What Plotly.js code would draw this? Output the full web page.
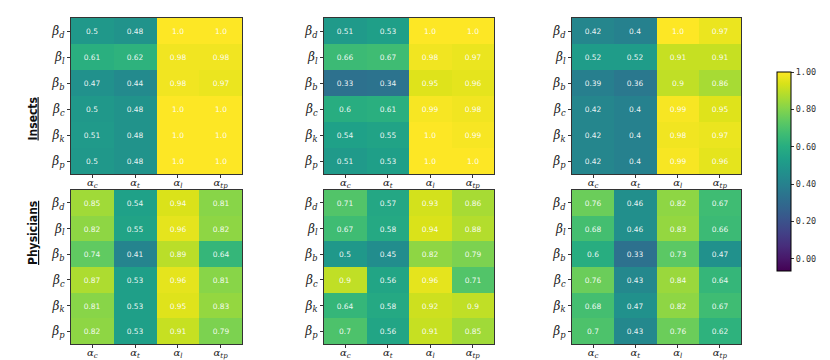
<!DOCTYPE html>
<html>
<head>
<meta charset="utf-8">
<script src="https://cdn.plot.ly/plotly-3.0.1.min.js"></script>
<style>
	html, body { margin: 0; padding: 0; background: #fff; }
	#plot { width: 830px; height: 360px; }
</style>
</head>
<body>
<div id="plot"></div>
<script>
// categories
const colLabels = [ 'c', 't', 'l', 'tp' ];
const rowLabels = [ 'd', 'l', 'b', 'c', 'k', 'p' ];
const groupNames = [ 'Insects', 'Physicians' ];

// Insects, rows = beta_d..beta_p, cols = alpha_c..alpha_tp
const insects1 = [
	[ 0.5, 0.48, 1.0, 1.0 ],
	[ 0.61, 0.62, 0.98, 0.98 ],
	[ 0.47, 0.44, 0.98, 0.97 ],
	[ 0.5, 0.48, 1.0, 1.0 ],
	[ 0.51, 0.48, 1.0, 1.0 ],
	[ 0.5, 0.48, 1.0, 1.0 ],
];
const insects2 = [
	[ 0.51, 0.53, 1.0, 1.0 ],
	[ 0.66, 0.67, 0.98, 0.97 ],
	[ 0.33, 0.34, 0.95, 0.96 ],
	[ 0.6, 0.61, 0.99, 0.98 ],
	[ 0.54, 0.55, 1.0, 0.99 ],
	[ 0.51, 0.53, 1.0, 1.0 ],
];
const insects3 = [
	[ 0.42, 0.4, 1.0, 0.97 ],
	[ 0.52, 0.52, 0.91, 0.91 ],
	[ 0.39, 0.36, 0.9, 0.86 ],
	[ 0.42, 0.4, 0.99, 0.95 ],
	[ 0.42, 0.4, 0.98, 0.97 ],
	[ 0.42, 0.4, 0.99, 0.96 ],
];

// Physicians
const physicians1 = [
	[ 0.85, 0.54, 0.94, 0.81 ],
	[ 0.82, 0.55, 0.96, 0.82 ],
	[ 0.74, 0.41, 0.89, 0.64 ],
	[ 0.87, 0.53, 0.96, 0.81 ],
	[ 0.81, 0.53, 0.95, 0.83 ],
	[ 0.82, 0.53, 0.91, 0.79 ],
];
const physicians2 = [
	[ 0.71, 0.57, 0.93, 0.86 ],
	[ 0.67, 0.58, 0.94, 0.88 ],
	[ 0.5, 0.45, 0.82, 0.79 ],
	[ 0.9, 0.56, 0.96, 0.71 ],
	[ 0.64, 0.58, 0.92, 0.9 ],
	[ 0.7, 0.56, 0.91, 0.85 ],
];
const physicians3 = [
	[ 0.76, 0.46, 0.82, 0.67 ],
	[ 0.68, 0.46, 0.83, 0.66 ],
	[ 0.6, 0.33, 0.73, 0.47 ],
	[ 0.76, 0.43, 0.84, 0.64 ],
	[ 0.68, 0.47, 0.82, 0.67 ],
	[ 0.7, 0.43, 0.76, 0.62 ],
];

const colorbarTicks = [ 0, 0.2, 0.4, 0.6, 0.8, 1.0 ];

/**
 * Layout helpers (pixel -> paper)
 */
const W = 830, H = 360;
const px = v => v / W;
const py = v => 1 - v / H;

const colDomains = [ [ 71, 242 ], [ 324, 494 ], [ 572, 741 ] ];
const rowDomains = [ [ 18, 174 ], [ 190, 344 ] ];
const panels = [ [ insects1, insects2, insects3 ], [ physicians1, physicians2, physicians3 ] ];

const xText = colLabels.map(s => `<i>α</i><sub><i>${s}</i></sub>`);
const yText = rowLabels.map(s => `<i>β</i><sub><i>${s}</i></sub>`);

const fmt = v => Number.isInteger(v) ? v.toFixed(1) : String(v);

const data = [];
const layout = {
	width: W,
	height: H,
	margin: { l: 0, r: 0, t: 0, b: 0 },
	paper_bgcolor: '#fff',
	plot_bgcolor: '#fff',
	showlegend: false,
	font: { family: 'DejaVu Sans', color: '#222' },
	annotations: [],
};

let n = 0;
panels.forEach(( row, r ) => {
	row.forEach(( z, c ) => {
		n++;
		const xa = n === 1 ? 'x' : `x${n}`;
		const ya = n === 1 ? 'y' : `y${n}`;
		data.push({
			type: 'heatmap',
			xaxis: xa,
			yaxis: ya,
			x: xText,
			y: yText,
			z,
			text: z.map(rw => rw.map(fmt)),
			texttemplate: '%{text}',
			textfont: { family: 'DejaVu Sans', size: 7.5, color: 'rgba(255,255,255,0.92)' },
			colorscale: 'Viridis',
			zmin: -0.065,
			zmax: 1.0,
			showscale: n === 1,
			hoverinfo: 'skip',
			colorbar: {
				x: px(777), xanchor: 'left', xpad: 0,
				y: py(171.5), yanchor: 'middle', ypad: 0,
				len: 199 / H, lenmode: 'fraction',
				thickness: 14,
				outlinewidth: 1, outlinecolor: '#000',
				ticks: 'outside', ticklen: 3, tickcolor: '#333',
				tickvals: colorbarTicks,
				ticktext: colorbarTicks.map(v => v.toFixed(2)),
				tickfont: { family: 'DejaVu Sans Mono', size: 8.5, color: '#333' },
			},
		});

		const axisBase = {
			showline: true,
			mirror: true,
			linecolor: '#333',
			linewidth: 1,
			ticks: 'outside',
			ticklen: 3,
			tickcolor: '#333',
			showgrid: false,
			zeroline: false,
			fixedrange: true,
		};
		layout[n === 1 ? 'xaxis' : `xaxis${n}`] = Object.assign({}, axisBase, {
			anchor: ya,
			domain: [ px(colDomains[c][0]), px(colDomains[c][1]) ],
			side: 'bottom',
			ticklabelstandoff: -4,
			tickfont: { family: 'DejaVu Serif', size: 10, color: '#222' },
		});
		layout[n === 1 ? 'yaxis' : `yaxis${n}`] = Object.assign({}, axisBase, {
			anchor: xa,
			domain: [ py(rowDomains[r][1]), py(rowDomains[r][0]) ],
			autorange: 'reversed',
			tickfont: { family: 'DejaVu Serif', size: 12, color: '#222' },
		});
	});
});

// row titles
groupNames.forEach(( name, r ) => {
	layout.annotations.push({
		xref: 'paper', yref: 'paper',
		x: px(24), y: py((rowDomains[r][0] + rowDomains[r][1]) / 2),
		text: `<b><u>${name}</u></b>`,
		textangle: -90,
		showarrow: false,
		font: { family: 'Liberation Sans Narrow, DejaVu Sans Condensed', size: 12, color: '#111' },
	});
});

Plotly.newPlot('plot', data, layout, { displayModeBar: false, staticPlot: true });
</script>
</body>
</html>
